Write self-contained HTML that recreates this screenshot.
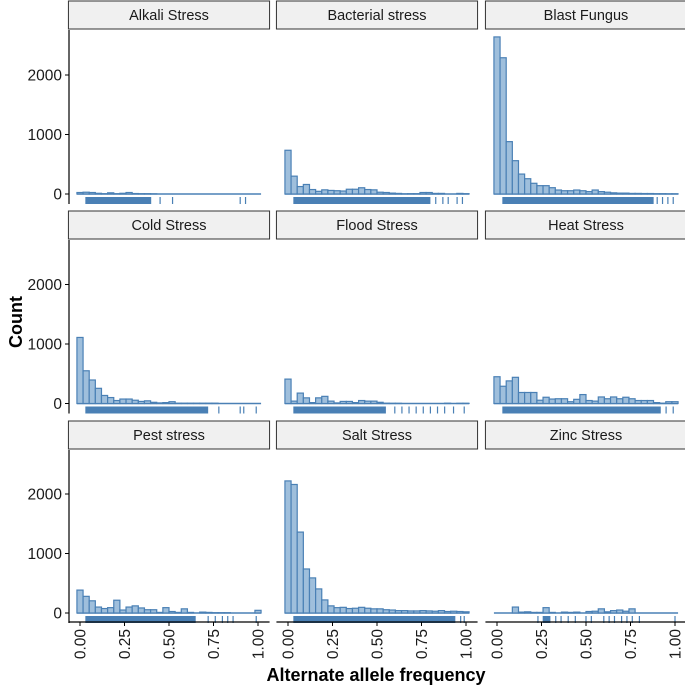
<!DOCTYPE html>
<html><head><meta charset="utf-8"><style>
body{margin:0;background:#fff}
svg{display:block;font-family:"Liberation Sans",Arial,sans-serif}
</style></head><body>
<svg id="c" width="685" height="685"></svg>
<script>
const panelNames=["Alkali Stress","Bacterial stress","Blast Fungus","Cold Stress","Flood Stress","Heat Stress","Pest stress","Salt Stress","Zinc Stress"];
const alkali=[25,30,25,12,5,20,5,12,25,8,5,5,3,0,0,0,0,0,0,0,0,0,0,0,0,0,0,0,0,0];
const bacterial=[735,300,125,160,75,45,70,60,55,50,80,80,105,75,70,30,25,15,10,3,5,5,25,25,10,10,0,0,10,5];
const blast=[2640,2290,880,560,335,257,180,140,140,106,67,55,55,67,55,40,67,40,30,20,15,15,10,10,8,8,5,5,3,3];
const cold=[1110,550,395,255,135,100,50,75,75,55,35,45,20,10,15,30,5,5,5,5,5,5,5,0,0,0,0,0,0,0];
const flood=[410,40,175,95,15,95,120,40,10,35,35,15,50,40,40,20,5,3,3,0,0,0,0,0,0,0,5,0,3,3];
const heat=[450,290,380,440,185,185,185,55,105,75,80,80,30,70,150,50,40,110,80,110,80,105,80,50,50,50,15,5,30,30];
const pest=[385,280,205,100,75,90,215,50,100,120,85,55,55,10,90,25,10,70,10,0,15,10,5,5,5,0,0,0,0,45];
const salt=[2220,2160,1360,740,590,405,220,120,90,95,75,80,95,80,70,70,55,50,40,40,35,35,40,35,30,40,25,30,25,20];
const zinc=[0,0,0,100,15,20,10,10,90,10,0,15,10,15,0,25,30,70,20,40,50,30,70,0,0,0,0,0,0,0];
const allCounts=[alkali,bacterial,blast,cold,flood,heat,pest,salt,zinc];
const rugDenseHi=[0.4,0.8,0.88,0.72,0.55,0.92,0.65,0.94,0.0];
const rugSparse=[[0.45,0.52,0.9,0.93],[0.83,0.87,0.9,0.95,0.98],[0.9,0.93,0.96,0.99],[0.78,0.9,0.92,0.99],[0.6,0.64,0.68,0.72,0.76,0.8,0.84,0.88,0.93,0.99],[0.95,0.99],[0.72,0.76,0.8,0.83,0.86,0.99],[0.97,0.99],[0.23,0.26,0.29,0.33,0.36,0.4,0.44,0.5,0.53,0.6,0.63,0.66,0.7,0.73,0.76,0.8,1.0]];
const zincRugDense=[0.26,0.3];
const yTicks=[0,1000,2000];
const xTicks=[0,0.25,0.5,0.75,1];
const xTickLabels=["0.00","0.25","0.50","0.75","1.00"];

const NS="http://www.w3.org/2000/svg";
const svg=document.getElementById('c');
function mk(tag,attrs,parent){const e=document.createElementNS(NS,tag);for(const k in attrs)e.setAttribute(k,attrs[k]);(parent||svg).appendChild(e);return e;}
const colX0=[80,288,497], unitW=178;
const rowY0=[194,403.5,613], perK=0.0595;
const stripY=[1,211,421];
const binW=1/29;
for(let p=0;p<9;p++){
  const r=Math.floor(p/3),c=p%3;
  const X=v=>colX0[c]+v*unitW, Y=v=>rowY0[r]-v*perK;
  const g=mk('g',{});
  
  
  const st=mk('rect',{x:X(-0.065),y:stripY[r],width:X(1.065)-X(-0.065),height:28,fill:'#f0f0f0',stroke:'#333','stroke-width':1},g);
  
  
  const tt=mk('text',{x:(X(-0.065)+X(1.065))/2,y:stripY[r]+19,'text-anchor':'middle','font-size':14.5,fill:'#1a1a1a'},g);
  tt.textContent=panelNames[p];
  
  
  // baseline
  const bl=mk('line',{x1:X(-binW/2),x2:X(1+binW/2),y1:Y(0),y2:Y(0),stroke:'#4a80b5','stroke-width':1.4},g);
  
  
  const counts=allCounts[p];
  counts.forEach((v,k)=>{
    if(v<=0)return;
    const cx=k*binW;
    const b=mk('rect',{x:X(cx-binW/2),y:Y(v),width:X(binW)-X(0),height:Y(0)-Y(v),fill:'#9fbfdc',stroke:'#4a80b5','stroke-width':1.2},g);
    
    
  });
  // rug
  const ry=rowY0[r]+3, rh=7;
  if(rugDenseHi[p]>0){
    const rd=mk('rect',{x:X(0.03),y:ry,width:X(rugDenseHi[p])-X(0.03),height:rh,fill:'#4a80b5'},g);
    
    
  } else {
    const rd=mk('rect',{x:X(zincRugDense[0]),y:ry,width:X(zincRugDense[1])-X(zincRugDense[0]),height:rh,fill:'#4a80b5'},g);
    
    
  }
  rugSparse[p].forEach(v=>{
    const t=mk('line',{x1:X(v),x2:X(v),y1:ry,y2:ry+rh,stroke:'#4a80b5','stroke-width':1.2},g);
    
    
  });
  if(c===0){
    const top=stripY[r]+29,bot=rowY0[r]+10;
    const ax=mk('line',{x1:69,x2:69,y1:top,y2:bot,stroke:'#000','stroke-width':1.2},g);
    
    
    yTicks.forEach(v=>{
      mk('line',{x1:65,x2:69,y1:Y(v),y2:Y(v),stroke:'#000','stroke-width':1},g);
      const l=mk('text',{x:62,y:Y(v)+5.5,'text-anchor':'end','font-size':15.5,fill:'#1a1a1a'},g);
      l.textContent=v;
      
      
    });
  }
  if(r===2){
    const ax=mk('line',{x1:X(-0.065),x2:X(1.065),y1:622,y2:622,stroke:'#000','stroke-width':1.2},g);
    
    
    xTicks.forEach((v,i)=>{
      mk('line',{x1:X(v),x2:X(v),y1:622,y2:626,stroke:'#000','stroke-width':1},g);
      const l=mk('text',{x:0,y:0,'text-anchor':'end','font-size':15.5,fill:'#1a1a1a',transform:`translate(${X(v)+5.5},629) rotate(-90)`},g);
      l.textContent=xTickLabels[i];
      
      
    });
  }
}
const xt=mk('text',{x:376,y:681,'text-anchor':'middle','font-size':18,'font-weight':'bold'});
xt.textContent='Alternate allele frequency';


const yt=mk('text',{x:0,y:0,'text-anchor':'middle','font-size':18,'font-weight':'bold',transform:'translate(22,322) rotate(-90)'});
yt.textContent='Count';


</script>
</body></html>
